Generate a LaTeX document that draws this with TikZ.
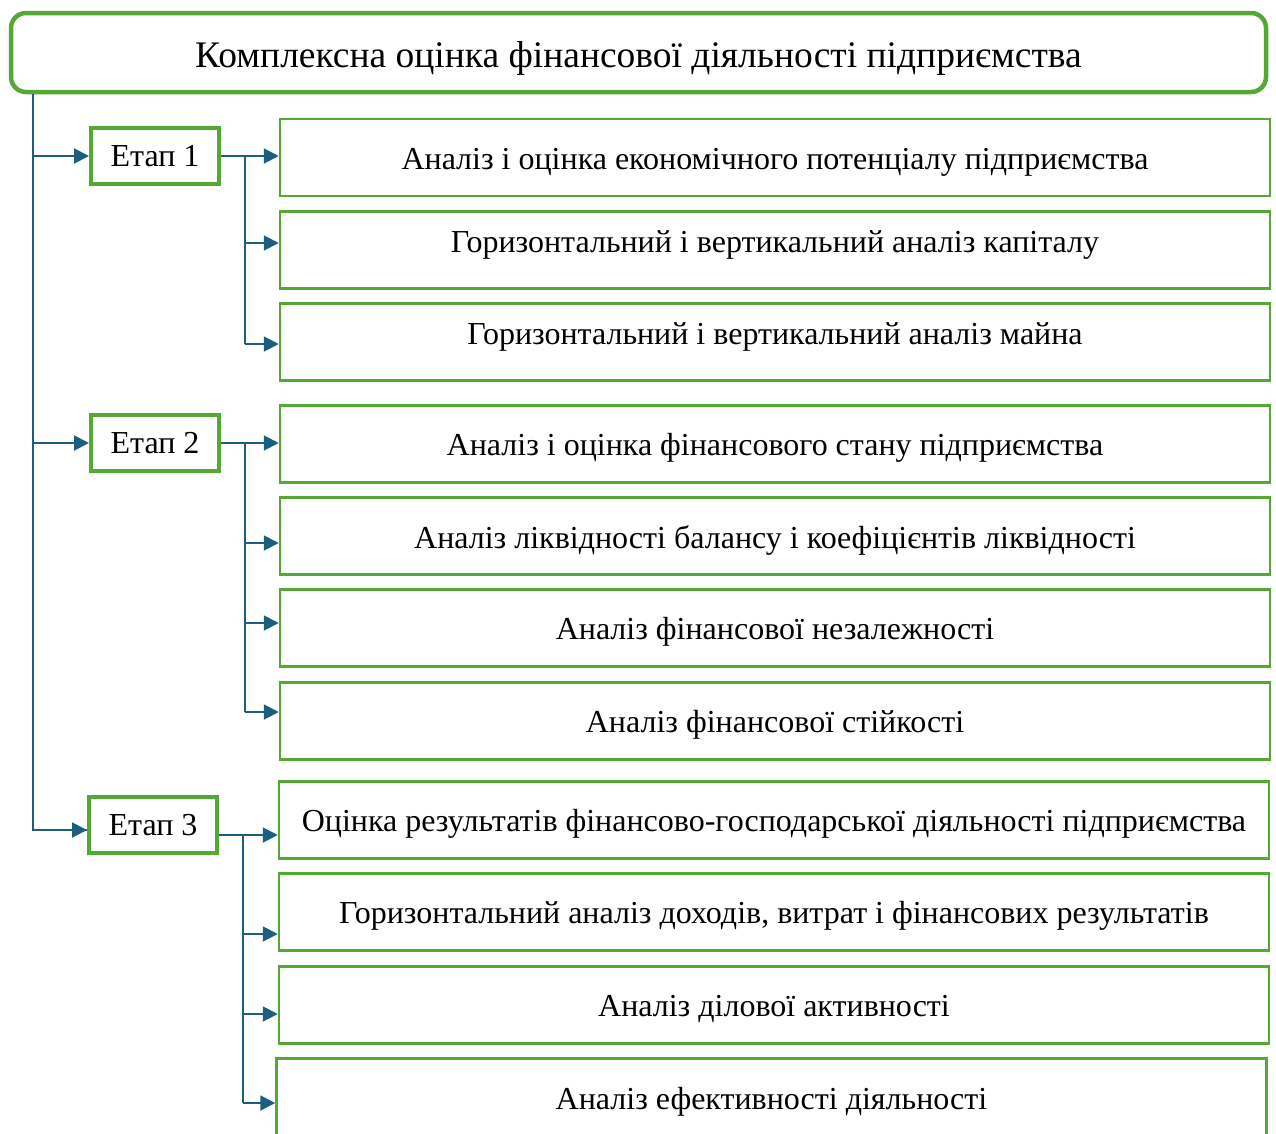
\documentclass[tikz,border=0pt]{standalone}
\usepackage{fontspec}
\setmainfont{Liberation Serif}
\usetikzlibrary{arrows.meta,calc}
\definecolor{gr}{RGB}{84,168,52}
\definecolor{bl}{RGB}{27,94,128}
\tikzset{
  titlebox/.style={draw=gr,line width=4.5pt,rounded corners=15pt,minimum width=1255pt,minimum height=79pt,inner sep=0pt,font=\fontsize{37.5}{42}\selectfont},
  stagebox/.style={draw=gr,line width=4pt,minimum width=128pt,minimum height=56pt,inner sep=0pt,font=\fontsize{32}{36}\selectfont},
  itembox/.style={draw=gr,line width=2.5pt,minimum width=990pt,minimum height=77pt,inner sep=0pt,font=\fontsize{32}{36}\selectfont},
  conn/.style={draw=bl,line width=2pt},
  arr/.style={conn,-{Triangle[length=15pt,width=15pt]}}
}
\newcommand{\shiftt}[2]{\raisebox{#1}[\height][\depth]{#2}}
\begin{document}
\begin{tikzpicture}[x=1pt,y=-1pt]
\useasboundingbox (0,0) rectangle (1276,1133);
\clip (0,0) rectangle (1276,1133);
\node[titlebox] (top) at (638.5,52.5) {\shiftt{-6pt}{Комплексна оцінка фінансової діяльності підприємства}};
\node[stagebox] (e1) at (155,156) {Етап 1};
\node[stagebox] (e2) at (155,443) {Етап 2};
\node[stagebox] (e3) at (153,825) {Етап 3};
\node[itembox] (b1) at (775,157.5) {\shiftt{-5pt}{Аналіз і оцінка економічного потенціалу підприємства}};
\node[itembox] (b2) at (775,250) {\shiftt{5pt}{Горизонтальний і вертикальний аналіз капіталу}};
\node[itembox] (b3) at (775,342) {\shiftt{5pt}{Горизонтальний і вертикальний аналіз майна}};
\node[itembox] (b4) at (775,444) {\shiftt{-4pt}{Аналіз і оцінка фінансового стану підприємства}};
\node[itembox] (b5) at (775,536) {\shiftt{-4pt}{Аналіз ліквідності балансу і коефіцієнтів ліквідності}};
\node[itembox] (b6) at (775,628) {\shiftt{-4pt}{Аналіз фінансової незалежності}};
\node[itembox] (b7) at (775,721) {\shiftt{-4pt}{Аналіз фінансової стійкості}};
\node[itembox] (b8) at (774,820) {\shiftt{-4pt}{Оцінка результатів фінансово-господарської діяльності підприємства}};
\node[itembox] (b9) at (774,912) {\shiftt{-4pt}{Горизонтальний аналіз доходів, витрат і фінансових результатів}};
\node[itembox] (b10) at (774,1005) {\shiftt{-4pt}{Аналіз ділової активності}};
\node[itembox] (b11) at (771.5,1097) {\shiftt{-5pt}{Аналіз ефективності діяльності}};
% trunk
\coordinate (trunk) at (33,94);
\draw[conn] (trunk) |- ([yshift=-5pt]e3.west);
\draw[arr] (trunk |- e1.west) -- (e1.west);
\draw[arr] (trunk |- e2.west) -- (e2.west);
\draw[arr] ([yshift=-5pt]trunk |- e3.west) -- ([yshift=-5pt]e3.west);
% stage 1
\coordinate (v1) at (245,0);
\draw[arr] (e1.east) -- (e1.east -| b1.west);
\draw[conn] (v1 |- e1.east) -- ([yshift=-2pt]v1 |- b3.west);
\draw[arr] ([yshift=7pt]v1 |- b2.west) -- ([yshift=7pt]b2.west);
\draw[arr] ([yshift=-2pt]v1 |- b3.west) -- ([yshift=-2pt]b3.west);
% stage 2
\coordinate (v2) at (245,0);
\draw[arr] (e2.east) -- (e2.east -| b4.west);
\draw[conn] (v2 |- e2.east) -- ([yshift=9pt]v2 |- b7.west);
\draw[arr] ([yshift=-7pt]v2 |- b5.west) -- ([yshift=-7pt]b5.west);
\draw[arr] ([yshift=5pt]v2 |- b6.west) -- ([yshift=5pt]b6.west);
\draw[arr] ([yshift=9pt]v2 |- b7.west) -- ([yshift=9pt]b7.west);
% stage 3
\coordinate (v3) at (243,0);
\draw[arr] ([yshift=-10pt]e3.east) -- ([yshift=-10pt]e3.east -| b8.west);
\draw[conn] ([yshift=-10pt]v3 |- e3.east) -- ([yshift=-6pt]v3 |- b11.west);
\draw[arr] ([yshift=-22pt]v3 |- b9.west) -- ([yshift=-22pt]b9.west);
\draw[arr] ([yshift=-9pt]v3 |- b10.west) -- ([yshift=-9pt]b10.west);
\draw[arr] ([yshift=-6pt]v3 |- b11.west) -- ([yshift=-6pt]b11.west);
\end{tikzpicture}
\end{document}
